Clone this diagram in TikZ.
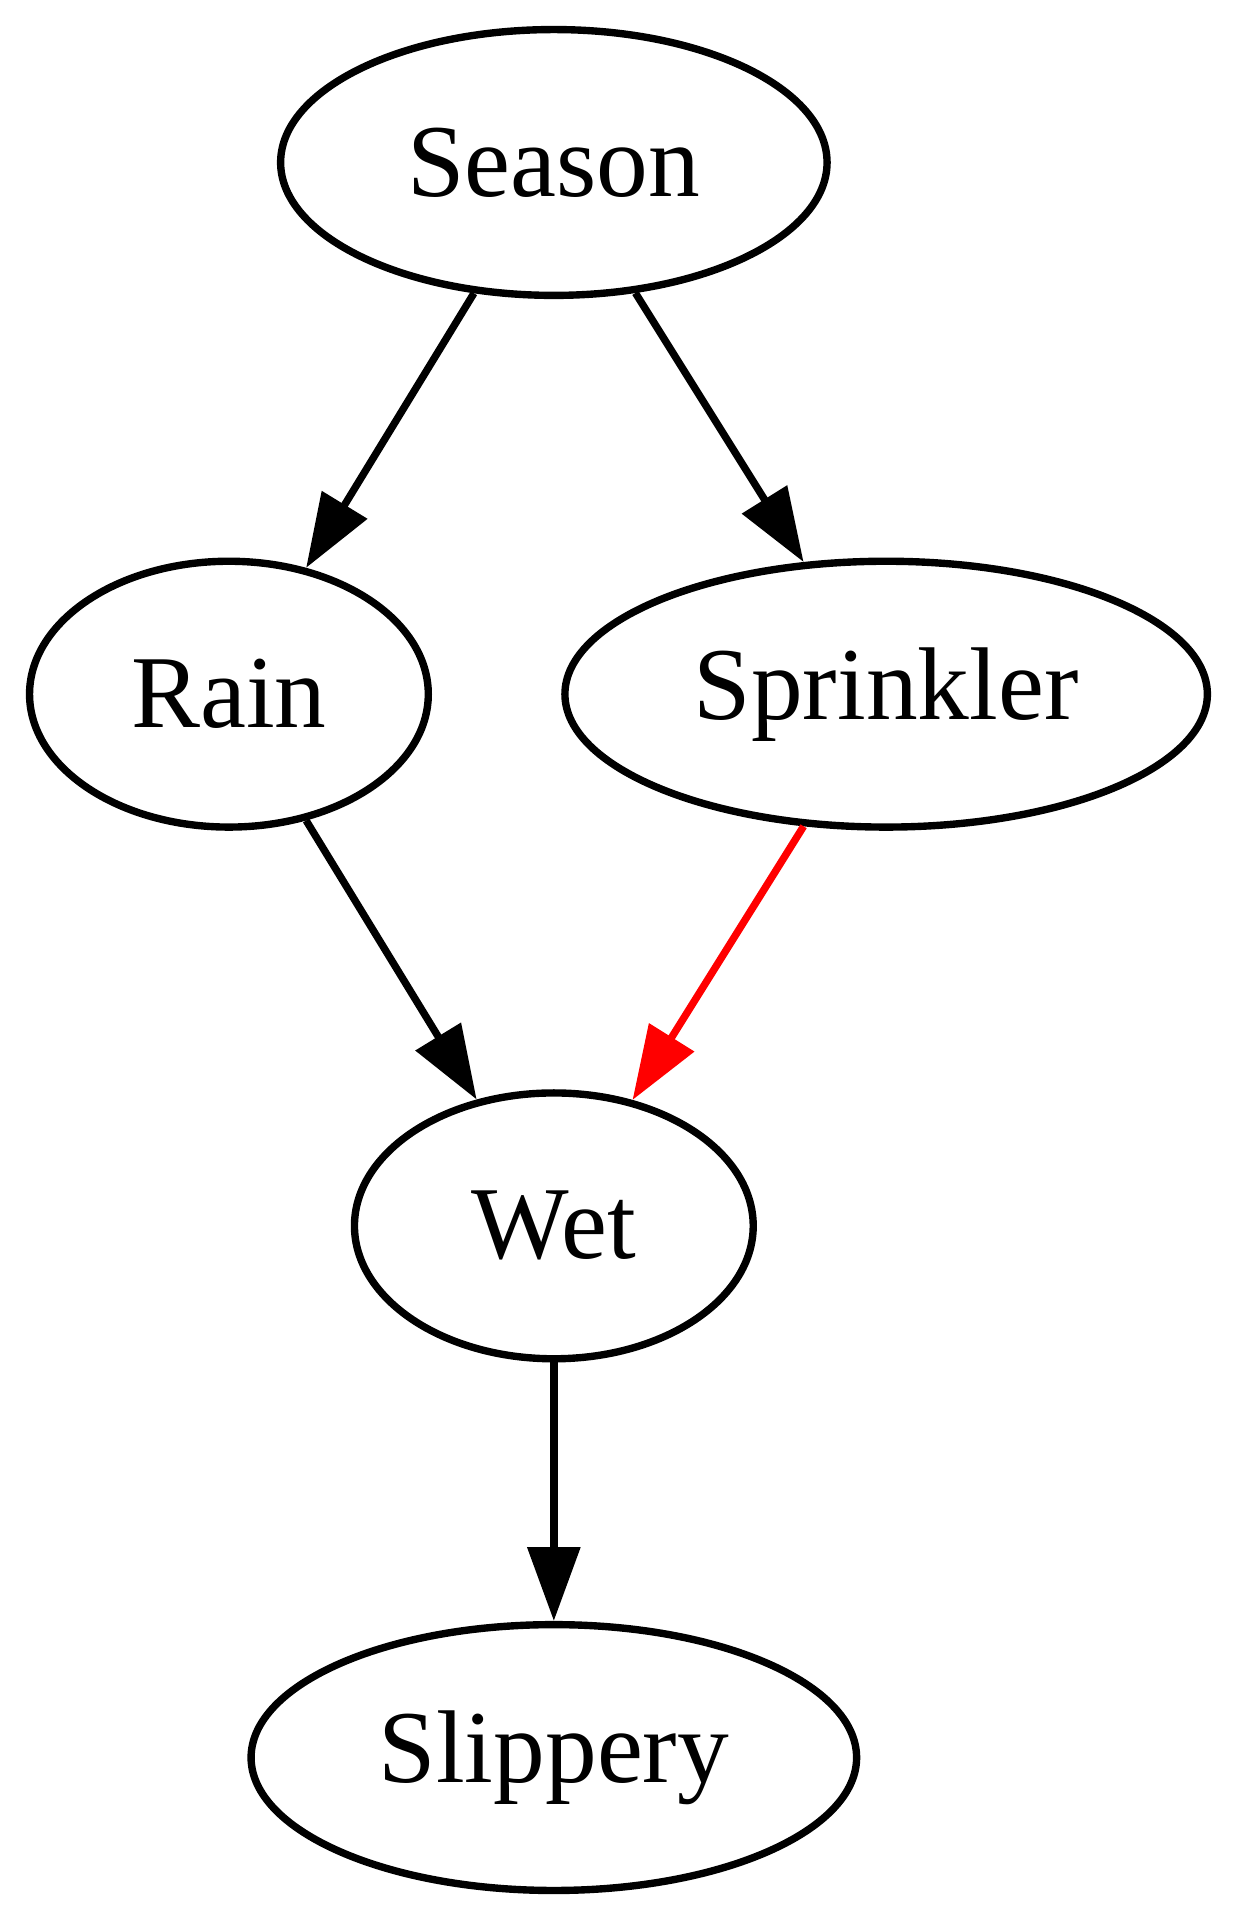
\documentclass[tikz,border=0pt]{standalone}
\usepackage{fontspec}
\setmainfont{Liberation Serif}
\usetikzlibrary{shapes.geometric,arrows.meta}
\begin{document}
\begin{tikzpicture}[
    every node/.style={draw, ellipse, line width=1pt, inner sep=0pt,
      minimum height=36pt, font=\fontsize{14pt}{16pt}\selectfont},
    edge/.style={line width=1pt, -{Triangle[length=10pt,width=7pt]}}]
      \useasboundingbox (0,0) rectangle (168pt,-260pt);
      \draw
        (75pt,-22pt) node[minimum width=74pt] (season){Season}
        (31pt,-94pt) node[minimum width=54pt] (rain){Rain}
        (120pt,-94pt) node[minimum width=87pt] (sprinkler){Sprinkler}
        (75pt,-166pt) node[minimum width=54pt] (wet){Wet}
        (75pt,-238pt) node[minimum width=82pt] (slippery){Slippery};
      \begin{scope}[edge]
        \draw (season) to (rain);
        \draw (season) to (sprinkler);
        \draw (rain) to (wet);
        \draw[red] (sprinkler) to (wet);
        \draw (wet) to (slippery);
      \end{scope}
    \end{tikzpicture}
\end{document}
